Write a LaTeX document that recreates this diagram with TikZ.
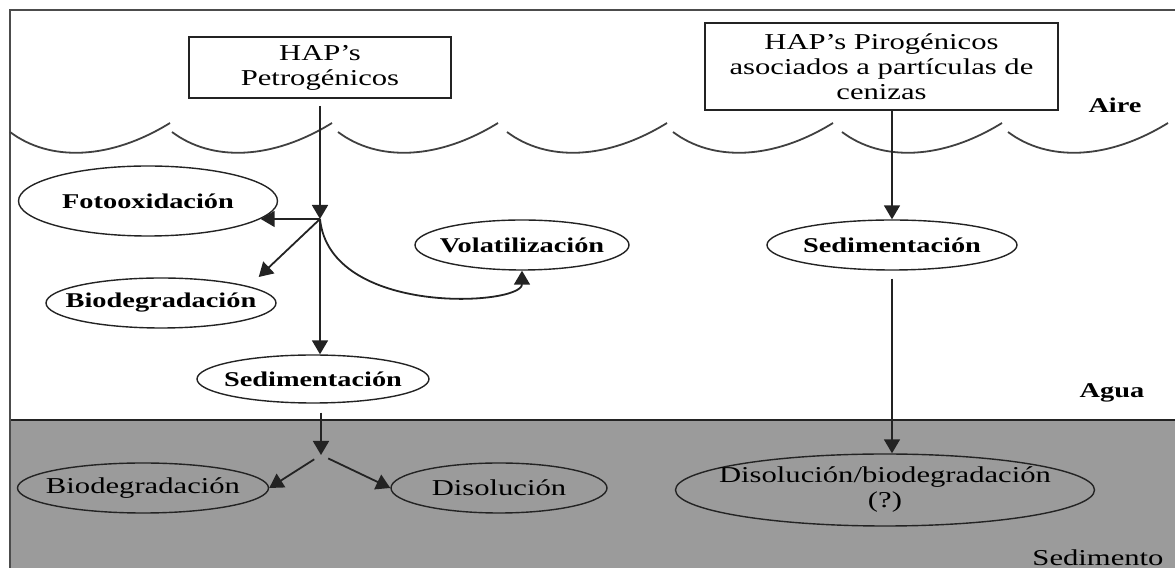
\documentclass[tikz,border=0pt]{standalone}
\usepackage{fontspec}
\setmainfont{Liberation Serif}[FakeStretch=1.35]
\usepackage{tikz}
\usetikzlibrary{shapes.geometric, arrows.meta, calc}
\definecolor{sedcolor}{RGB}{155,155,155}
\definecolor{linecolor}{RGB}{35,35,35}

\begin{document}
\begin{tikzpicture}[x=0.5pt, y=-0.5pt,
    hapbox/.style={rectangle, draw=linecolor, line width=0.9pt, inner sep=0pt, align=center,
                   font=\fontsize{11.35}{12.5}\selectfont},
    proc/.style={ellipse, draw=linecolor, line width=0.7pt, inner xsep=-12pt, inner ysep=-3pt,
                 font=\bfseries\fontsize{10.5}{12}\selectfont},
    sedproc/.style={proc, align=center, font=\fontsize{11.35}{12.5}\selectfont},
    zone/.style={font=\bfseries\fontsize{10.5}{12}\selectfont},
    flow/.style={-{Triangle[length=7pt, width=8pt]}, draw=linecolor, line width=0.9pt},
    wave/.style={draw=black!75, line width=0.9pt}
]
\useasboundingbox (0,0) rectangle (1175,571);

% Sediment layer
\fill[sedcolor] (10,420) rectangle (1175,568);
\draw[linecolor, line width=0.9pt] (10,420) -- (1175,420);

% Frame
\draw[black!70, line width=1.2pt] (10,568) -- (10,10) -- (1175,10);

% Water surface
\foreach \wx in {10,172,338,507,673,842,1008}
  \draw[wave] (\wx,132) .. controls (\wx+40,162) and (\wx+100,160) .. (\wx+160,123);

% Zone labels
\node[zone] (aire) at (1115,105) {Aire};
\node[zone] (agua) at (1112,393) {Agua};
\node[font=\fontsize{11.35}{12.5}\selectfont] (sedimento) at (1098,558) {Sedimento};

% Sources
\node[hapbox, minimum width=131pt, minimum height=30.5pt] (petro) at (320,67.5) {HAP’s\\Petrogénicos};
\node[hapbox, minimum width=176.5pt, minimum height=43.5pt] (piro) at (881.5,66.5) {HAP’s Pirogénicos\\asociados a partículas de\\cenizas};

% Processes in water
\node[proc, minimum width=129.5pt, minimum height=35pt] (fotox) at (148,201) {Fotooxidación};
\node[proc, minimum width=115pt, minimum height=25pt] (bio1) at (161,303) {Biodegradación};
\node[proc, minimum width=107pt, minimum height=25pt] (vol) at (522,245) {Volatilización};
\node[proc, minimum width=116pt, minimum height=24pt] (sed1) at (313,379) {Sedimentación};
\node[proc, minimum width=125pt, minimum height=25pt] (sed2) at (892,245) {Sedimentación};

% Processes in sediment
\node[sedproc, minimum width=125.5pt, minimum height=25pt] (bio2) at (143,488) {Biodegradación};
\node[sedproc, minimum width=108pt, minimum height=25pt] (disol) at (499,488) {Disolución};
\node[sedproc, minimum width=209.5pt, minimum height=36pt] (disbio) at (885,490) {Disolución/biodegradación\\(?)};

% Branch points
\coordinate (j1) at (320,219);
\coordinate (j2) at (321,455);
\coordinate (bio1tip) at ($(bio1.east)+(-18,-26)$);

% Petrogenic path
\draw[flow, shorten <=3.5pt] (petro.south) -- (j1);
\draw[flow] (j1) -- (j1 -| fotox.351);
\draw[flow] (j1) -- (bio1tip);
\draw[flow] (j1) .. controls +(10,98) and +(0,35) .. (vol.south);
\draw[flow] (j1) -- (sed1.north -| j1);
\draw[flow, shorten <=4.5pt] (sed1.south -| j2) -- (j2);
\draw[flow, shorten <=4pt] (j2) -- (bio2.east);
\draw[flow, shorten <=4pt] (j2) -- (disol.west);

% Pyrogenic path
\draw[flow] (piro.south -| sed2.north) -- (sed2.north);
\draw[flow, shorten <=4pt] (sed2.south) -- (disbio.north -| sed2.south);

\end{tikzpicture}
\end{document}
